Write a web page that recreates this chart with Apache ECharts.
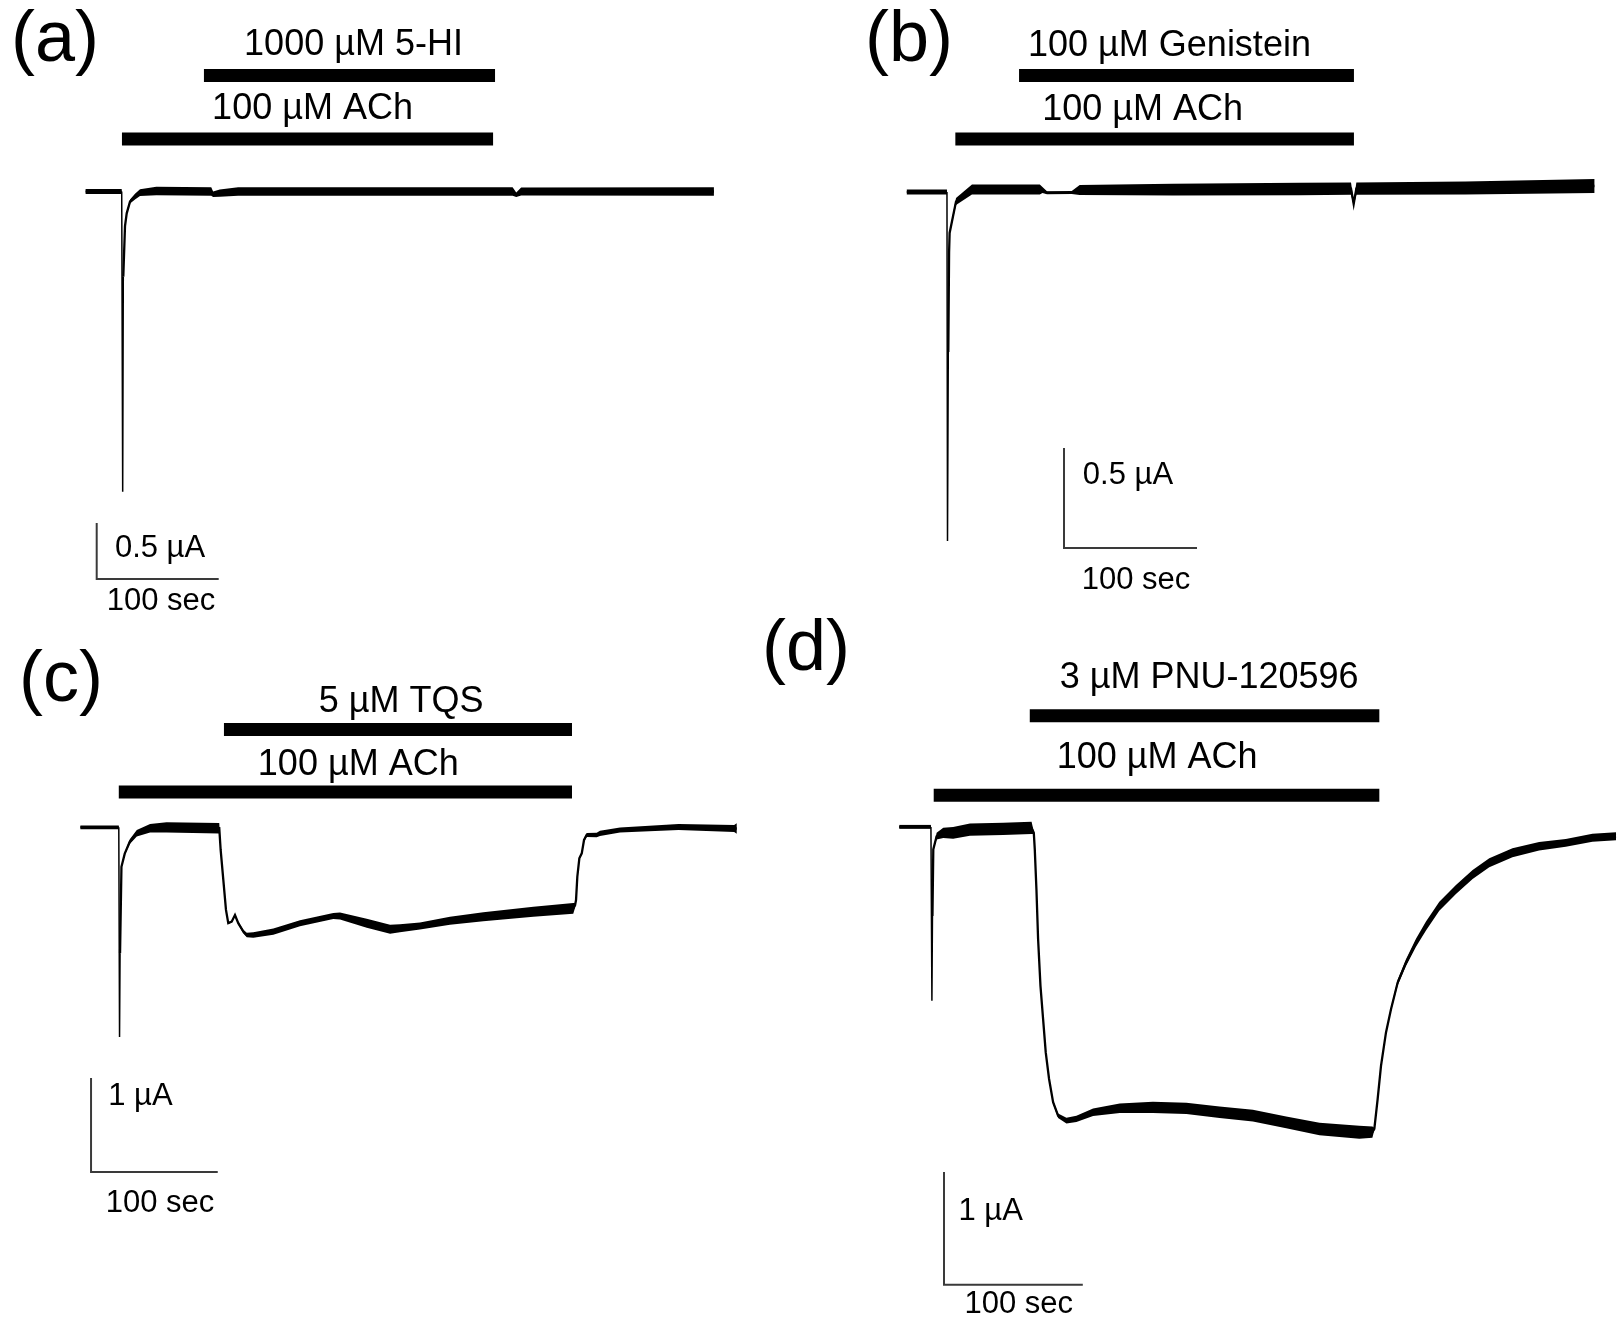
<!DOCTYPE html>
<html>
<head>
<meta charset="utf-8">
<script src="https://cdn.jsdelivr.net/npm/echarts@6/dist/echarts.min.js"></script>
<style>
  html, body { margin: 0; padding: 0; background: #fff; }
  #chart { width: 1617px; height: 1323px; }
</style>
</head>
<body>
<div id="chart"></div>
<script>
// traces: [time (s), current (µA), noise band peak-to-peak (µA)]
// time 0 = start of each recording

// (a) 5-HI
const preA = [[0, 0, 0.045], [29.6, 0, 0.045]];
const spikeA = [[29.6, 0], [30.4, -2.68], [30.9, -0.76]];
const traceA = [
  [30.9, -0.76, 0], [32.3, -0.31, 0.01], [33.7, -0.195, 0.02], [36.4, -0.09, 0.035],
  [40.5, -0.046, 0.05], [44.6, -0.01, 0.06], [58, 0.005, 0.075], [103, 0, 0.075],
  [104.5, -0.025, 0.05], [110, -0.015, 0.065], [125, 0, 0.075], [350, 0, 0.075],
  [353, -0.03, 0.04], [357, 0, 0.07], [515, 0, 0.075]
];
const drugA = ['1000 µM 5-HI', '100 µM ACh'];
const timesA = [[97.0, 335.6], [29.8, 334.0]];
const scaleA = [100, 0.5];
const scaleTextA = ['100 sec', '0.5 µA'];

// (b) Genistein
const preB = [[0, 0, 0.025], [30.2, 0, 0.025]];
const spikeB = [[30.2, 0], [30.6, -1.745], [31.2, -0.8]];
const traceB = [
  [31.2, -0.8, 0], [31.8, -0.3, 0], [32.2, -0.205, 0.015], [37, -0.048, 0.035],
  [49, 0.012, 0.05], [100, 0.0125, 0.05], [102, 0.01, 0.03], [105.4, -0.004, 0.015],
  [124, -0.003, 0.015], [130, 0.01, 0.05], [200, 0.012, 0.058], [295.6, 0.015, 0.062],
  [334, 0.017, 0.062], [336, -0.06, 0.02], [338, 0.017, 0.062], [420, 0.02, 0.065],
  [517, 0.03, 0.07]
];
const drugB = ['100 µM Genistein', '100 µM ACh'];
const timesB = [[84.4, 336.2], [36.5, 336.2]];
const scaleB = [100, 0.5];
const scaleTextB = ['100 sec', '0.5 µA'];

// (c) TQS
const preC = [[0, 0, 0.04], [30.3, 0, 0.04]];
const spikeC = [[30.3, 0], [30.9, -2.23], [31.3, -1.34]];
const traceC = [
  [31.3, -1.34, 0], [32.4, -0.42, 0.01], [35, -0.28, 0.025], [39, -0.153, 0.05],
  [44.5, -0.064, 0.07], [55, -0.011, 0.09], [68, 0, 0.11], [109.6, -0.01, 0.11],
  [110.7, -0.241, 0], [112.8, -0.56, 0], [114.9, -0.879, 0], [116.7, -1.02, 0.02],
  [119.4, -1.004, 0.02], [122, -0.933, 0.02], [124.6, -1.02, 0.03], [128.6, -1.11, 0.04],
  [131.3, -1.146, 0.05], [136.5, -1.146, 0.06], [152.3, -1.11, 0.065], [173.3, -1.02, 0.065],
  [199.6, -0.944, 0.065], [204.9, -0.944, 0.075], [226, -1.02, 0.095], [244.4, -1.085, 0.095],
  [252.2, -1.074, 0.085], [268, -1.05, 0.075], [291.7, -0.994, 0.085], [318, -0.951, 0.095],
  [357.5, -0.898, 0.105], [389, -0.862, 0.115], [390.4, -0.83, 0.05], [391.2, -0.772, 0],
  [392.2, -0.526, 0], [393.8, -0.33, 0.02], [395.7, -0.277, 0.03], [397.5, -0.135, 0.035],
  [399.6, -0.082, 0.045], [407.5, -0.082, 0.05], [410.1, -0.064, 0.055], [425.9, -0.029, 0.055],
  [472.1, 0.003, 0.065], [516, -0.013, 0.075], [518, -0.013, 0.11]
];
const drugC = ['5 µM TQS', '100 µM ACh'];
const timesC = [[113.3, 388.0], [30.3, 388.0]];
const scaleC = [100, 1];
const scaleTextC = ['100 sec', '1 µA'];

// (d) PNU-120596
const preD = [[0, 0, 0.035], [22.8, 0, 0.035]];
const spikeD = [[22.8, 0], [23.5, -1.543], [23.9, -0.79]];
const traceD = [
  [23.9, -0.79, 0], [24.5, -0.2, 0.01], [26.9, -0.083, 0.06], [31.7, -0.053, 0.09],
  [38.8, -0.053, 0.105], [50.9, -0.024, 0.11], [74.8, -0.018, 0.11], [95.3, -0.009, 0.11],
  [96.9, -0.053, 0.02], [97.6, -0.2, 0], [98.8, -0.555, 0], [100, -0.997, 0],
  [101.7, -1.41, 0], [103.6, -1.705, 0], [105.5, -2.0, 0], [107.9, -2.236, 0.01],
  [110.8, -2.442, 0.03], [114.4, -2.561, 0.04], [120.4, -2.605, 0.05], [127.6, -2.59, 0.055],
  [139.6, -2.531, 0.065], [158.8, -2.496, 0.085], [182.7, -2.487, 0.1], [206.8, -2.496, 0.1],
  [230.7, -2.531, 0.1], [254.7, -2.561, 0.105], [278.7, -2.62, 0.105], [302.7, -2.679, 0.11],
  [331.4, -2.708, 0.115], [340.8, -2.708, 0.1], [342.2, -2.679, 0.02], [344.6, -2.413, 0],
  [347, -2.119, 0], [350.6, -1.823, 0.02], [354.2, -1.617, 0.035], [359, -1.381, 0.05],
  [365, -1.204, 0.06], [372.2, -1.027, 0.07], [379.4, -0.88, 0.08], [389, -0.703, 0.08],
  [401, -0.555, 0.08], [413, -0.422, 0.08], [425, -0.319, 0.08], [441.7, -0.23, 0.08],
  [460.9, -0.172, 0.075], [480.1, -0.142, 0.07], [499.3, -0.097, 0.07], [516.3, -0.083, 0.07]
];
const drugD = ['3 µM PNU-120596', '100 µM ACh'];
const timesD = [[94.0, 345.8], [24.8, 345.8]];
const scaleD = [100, 1];
const scaleTextD = ['100 sec', '1 µA'];

const panelLetters = ['(a)', '(b)', '(c)', '(d)'];

const FONT = '"Liberation Sans", Arial, sans-serif';

// layout: pixel origin of (t=0, I=0), pixels per sec / per µA, axis ranges,
// level of the application bars, label and scale bar spots (in data units)
const layout = [
  { x0: 85.6, y0: 191.5, pxS: 1.22, pxA: 112, tr: [-70, 530], ir: [-3.9, 1.6],
    levels: [1.036, 0.469], labelAt: [[219.6, 1.304], [186, 0.739]],
    scaleAt: [9.1, -3.46], scaleTextAt: [[61.8, -3.656], [61, -3.19]], letter: [11, 41] },
  { x0: 906.8, y0: 192, pxS: 1.33, pxA: 200, tr: [-20, 525], ir: [-2.1, 0.9],
    levels: [0.583, 0.265], labelAt: [[197.5, 0.728], [177.3, 0.41]],
    scaleAt: [118.2, -1.78], scaleTextAt: [[172.3, -1.94], [166.3, -1.415]], letter: [865, 41] },
  { x0: 80.4, y0: 827.3, pxS: 1.267, pxA: 94, tr: [-60, 525], ir: [-4.3, 1.7],
    levels: [1.04, 0.375], labelAt: [[253.1, 1.335], [219.3, 0.663]],
    scaleAt: [8.4, -3.667], scaleTextAt: [[62.8, -4.0], [47.4, -2.86]], letter: [19, 681] },
  { x0: 899.3, y0: 827.3, pxS: 1.39, pxA: 113, tr: [-10, 517], ir: [-4.4, 1.7],
    levels: [0.985, 0.281], labelAt: [[223.2, 1.319], [185.8, 0.614]],
    scaleAt: [32.2, -4.06], scaleTextAt: [[86.1, -4.235], [65.8, -3.413]], letter: [762, 650] }
];

const panels = [
  { pre: preA, spike: spikeA, trace: traceA, drugs: drugA, times: timesA, scale: scaleA, scaleText: scaleTextA },
  { pre: preB, spike: spikeB, trace: traceB, drugs: drugB, times: timesB, scale: scaleB, scaleText: scaleTextB },
  { pre: preC, spike: spikeC, trace: traceC, drugs: drugC, times: timesC, scale: scaleC, scaleText: scaleTextC },
  { pre: preD, spike: spikeD, trace: traceD, drugs: drugD, times: timesD, scale: scaleD, scaleText: scaleTextD }
];

// noise envelope drawn as one polygon through the axes
let bandSeries = (k, tr) => ({
  type: 'custom',
  xAxisIndex: k, yAxisIndex: k,
  data: tr.map(p => [p[0], p[1]]),
  silent: true,
  z: 3,
  renderItem: (params, api) => {
    if (params.dataIndex !== 0) return null;
    const up = tr.map(p => api.coord([p[0], p[1] + p[2] / 2]));
    const lo = tr.map(p => api.coord([p[0], p[1] - p[2] / 2])).reverse();
    return { type: 'polygon', shape: { points: up.concat(lo) }, style: { fill: '#000' } };
  }
});

let lineSeries = (k, data, width, color) => ({
  type: 'line',
  xAxisIndex: k, yAxisIndex: k,
  data: data.map(p => [p[0], p[1]]),
  showSymbol: false,
  symbol: 'none',
  silent: true,
  z: 4,
  lineStyle: { width: width, color: color || '#000', cap: 'butt', join: 'miter' }
});

let textSeries = (k, items, size) => ({
  type: 'scatter',
  xAxisIndex: k, yAxisIndex: k,
  symbolSize: 0,
  silent: true,
  z: 5,
  itemStyle: { opacity: 1, color: '#000' },
  data: items.map(it => ({
    value: it.at,
    label: {
      show: true, position: 'inside', formatter: it.text,
      fontSize: size, fontFamily: FONT, color: '#000', opacity: 1,
      textBorderWidth: 0, textShadowBlur: 0
    }
  }))
});

const grids = [], xAxes = [], yAxes = [], series = [], graphics = [];

panels.forEach((p, k) => {
  const L = layout[k];
  grids.push({
    left: L.x0 + L.tr[0] * L.pxS,
    top: L.y0 - L.ir[1] * L.pxA,
    width: (L.tr[1] - L.tr[0]) * L.pxS,
    height: (L.ir[1] - L.ir[0]) * L.pxA
  });
  xAxes.push({ type: 'value', gridIndex: k, min: L.tr[0], max: L.tr[1], show: false });
  yAxes.push({ type: 'value', gridIndex: k, min: L.ir[0], max: L.ir[1], show: false });

  // application bars
  p.times.forEach((t, j) => {
    series.push(lineSeries(k, [[t[0], L.levels[j]], [t[1], L.levels[j]]], 13));
  });
  series.push(textSeries(k, p.drugs.map((d, j) => ({ text: d, at: L.labelAt[j] })), 36));

  // scale bar
  const s0 = L.scaleAt;
  series.push(lineSeries(k, [[s0[0], s0[1] + p.scale[1]], [s0[0], s0[1]], [s0[0] + p.scale[0], s0[1]]], 2, '#3a3a3a'));
  series.push(textSeries(k, p.scaleText.map((d, j) => ({ text: d, at: L.scaleTextAt[j] })), 31));

  // current trace
  series.push(bandSeries(k, p.pre));
  series.push(bandSeries(k, p.trace));
  series.push(lineSeries(k, p.pre, 2));
  series.push(lineSeries(k, p.spike, 1.5));
  series.push(lineSeries(k, p.trace, 2.3));

  graphics.push({
    type: 'text',
    style: {
      text: panelLetters[k], x: L.letter[0], y: L.letter[1],
      fontSize: 72, fontFamily: FONT, fill: '#000', verticalAlign: 'middle', align: 'left'
    }
  });
});

const chart = echarts.init(document.getElementById('chart'), null, { renderer: 'canvas' });
chart.setOption({
  backgroundColor: '#fff',
  animation: false,
  tooltip: { show: false },
  grid: grids,
  xAxis: xAxes,
  yAxis: yAxes,
  series: series,
  graphic: graphics
});

window.addEventListener('resize', () => {
  chart.resize();
});
</script>
</body>
</html>
